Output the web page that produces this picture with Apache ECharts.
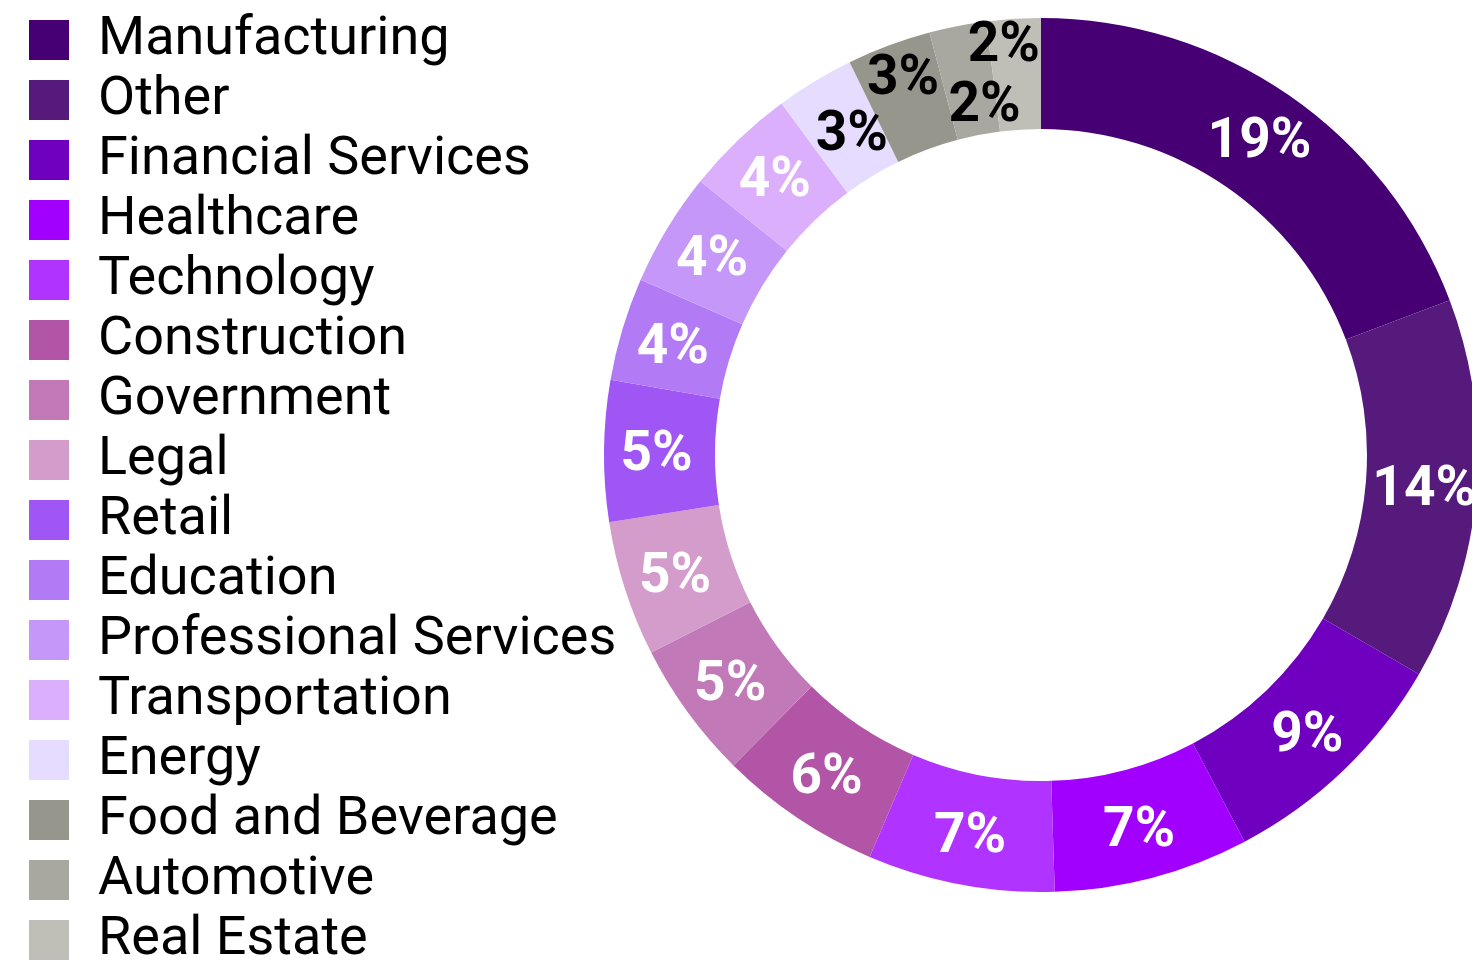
<!DOCTYPE html>
<html>
<head>
<meta charset="utf-8">
<script src="https://cdn.jsdelivr.net/npm/echarts@6/dist/echarts.min.js"></script>
<style>
html,body{margin:0;padding:0;background:#fff;}
#chart{width:1472px;height:962px;}
</style>
</head>
<body>
<div id="chart"></div>
<script>
const categories = ["Manufacturing","Other","Financial Services","Healthcare","Technology","Construction","Government","Legal","Retail","Education","Professional Services","Transportation","Energy","Food and Beverage","Automotive","Real Estate"];
const values = [19.2,14.1,8.9,7.2,6.9,6.0,5.1,5.0,5.2,3.8,4.2,4.1,2.9,3.1,2.1,2.0];
const colors = ["#460073","#561a7d","#7000c0","#a100ff","#b033ff","#b355a6","#c279b8","#d49ccb","#a055f5","#b27af5","#c497f8","#dcaffc","#e6dcff","#96968c","#a9a8a0","#bfbfb8"];
const darkLabel = ["Energy","Food and Beverage","Automotive","Real Estate"];
const labelShift = {"Food and Beverage":[-4,-19],"Automotive":[17,25],"Real Estate":[-13,-29],"Energy":[10,5]};

const data = categories.map((c,i)=>({
  name:c, value:values[i],
  itemStyle:{color:colors[i]},
  label:{color: darkLabel.includes(c) ? '#000' : '#fff'}
}));

const chart = echarts.init(document.getElementById('chart'), null, {renderer:'canvas'});
chart.setOption({
  animation:false,
  legend:{
    orient:'vertical', left:29, top:13, padding:0,
    height:960,
    itemWidth:40, itemHeight:40, itemGap:6,
    icon:'rect',
    data:categories,
    textStyle:{fontFamily:'Roboto', fontSize:54, color:'#000', padding:[0,0,0,24]}
  },
  series:[{
    type:'pie',
    center:[1041,455],
    radius:[326,437],
    startAngle:90,
    clockwise:true,
    avoidLabelOverlap:false,
    data:data,
    itemStyle:{borderWidth:0},
    label:{
      show:true, position:'inside',
      fontFamily:'Roboto', fontWeight:'bold', fontSize:55,
      formatter:p=>Math.round(p.value)+'%'
    },
    labelLine:{show:false},
    labelLayout:function(params){
      const s = labelShift[categories[params.dataIndex]] || [0,0];
      return {dx:s[0], dy:s[1] + 5};
    },
    emphasis:{disabled:true}
  }]
});
</script>
</body>
</html>
